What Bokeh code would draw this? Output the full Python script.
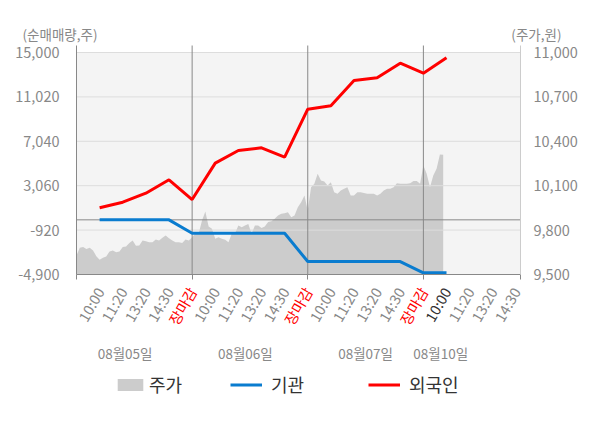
import math
from bokeh.plotting import figure
from bokeh.models import (Range1d, LinearAxis, FixedTicker, NumeralTickFormatter,
                          BoxAnnotation, Label, LabelSet, ColumnDataSource, Legend, LegendItem)
from bokeh.embed import file_html
from bokeh.resources import INLINE
from bokeh.core.properties import value

FONT = "Noto Sans CJK KR"

# ---------------- data ----------------
time_labels = ["10:00", "11:20", "13:20", "14:30", "장마감"] * 3 + ["10:00", "11:20", "13:20", "14:30"]
date_labels = ["08월05일", "08월06일", "08월07일", "08월10일"]

# net buying volume (shares), left axis
foreign = [1080, 1580, 2390, 3590, 1820, 5080, 6220, 6460, 5620, 9920,
           10220, 12490, 12730, 14040, 13150, 14530]
institution = [0, 0, 0, 0, -1200, -1200, -1200, -1200, -1200, -3740,
               -3740, -3740, -3740, -3740, -4750, -4750]

# share price (won), right axis, intraday samples per day
price_day1 = [9628, 9680, 9685, 9673, 9680, 9662, 9624, 9599, 9613, 9622,
              9655, 9662, 9651, 9655, 9685, 9689, 9712, 9730, 9694, 9696,
              9730, 9725, 9718, 9718, 9736, 9730, 9748, 9764, 9745, 9730,
              9718, 9718, 9712, 9736, 9730]
price_day2 = [9752, 9779, 9779, 9865, 9925, 9824, 9809, 9741, 9752, 9741,
              9734, 9718, 9775, 9779, 9831, 9820, 9831, 9842, 9775, 9831,
              9831, 9815, 9824, 9854, 9860, 9876, 9899, 9910, 9914, 9921,
              9887, 9899, 9955, 9989, 10034]
price_day3 = [9932, 10090, 10113, 10180, 10135, 10128, 10101, 10124, 10056, 10045,
              10068, 10079, 10090, 10034, 10034, 10056, 10056, 10050, 10045, 10045,
              10045, 10034, 10045, 10068, 10079, 10079, 10090, 10117, 10113, 10113,
              10113, 10117, 10131, 10131, 10113]
price_day4 = [10237, 10180, 10090, 10169, 10214, 10311, 10309]

left_ticks = [-4900, -920, 3060, 7040, 11020, 15000]
right_ticks = [9500, 9800, 10100, 10400, 10700, 11000]

# ---------------- layout (pixels) ----------------
W, H = 600, 428
PL, PR = 76, 520          # plot area left / right
PT, PB = 45, 274          # frame top / bottom (axis line ends)
TICK_TOP_PX = 52          # pixel of the top tick (15,000 / 11,000)
X0, X1 = -1, 18.2         # x-extent of plot area in slot units
SLOTS_PER_DAY = 5
SAMPLES_PER_DAY = 35
date_label_x = [1.1, 6.3, 11.5, 14.75]

kx = (PR - PL) / (X1 - X0)
def xd(px):
    return X0 + (px - PL) / kx

def make_y(lo, hi):
    k = (PB - TICK_TOP_PX) / (hi - lo)
    return lambda py: lo + (PB - py) / k

yl = make_y(left_ticks[0], left_ticks[-1])
yr = make_y(right_ticks[0], right_ticks[-1])

idx = list(range(len(foreign)))
price = price_day1 + price_day2 + price_day3 + price_day4
price_x = [X0 + k * SLOTS_PER_DAY / SAMPLES_PER_DAY for k in range(len(price))]
close_idx = [i for i, t in enumerate(time_labels) if t == "장마감"]

p = figure(width=W, height=H,
           x_range=Range1d(xd(0), xd(W)), y_range=Range1d(yl(H), yl(0)),
           x_axis_location=None, y_axis_location=None,
           output_backend="svg", toolbar_location=None,
           min_border=0)
p.outline_line_color = None
p.background_fill_color = "white"
p.border_fill_color = "white"
p.extra_y_ranges = {"price": Range1d(yr(H), yr(0))}
p.xgrid.visible = False
p.ygrid.visible = False

# plot-area background
p.add_layout(BoxAnnotation(left=X0, right=X1, bottom=left_ticks[0], top=left_ticks[-1],
                           fill_color="#f4f4f4", fill_alpha=1, line_color=None, level="image"))

# price area
area = p.varea(x=price_x, y1=right_ticks[0], y2=price, y_range_name="price",
               fill_color="#cccccc", fill_alpha=1)

# grid lines
p.segment(x0=X0, x1=X1, y0=left_ticks[1:], y1=left_ticks[1:], line_color="#dddddd", line_width=1)
# zero line and day separators
p.segment(x0=X0, x1=X1, y0=0, y1=0, line_color="#888888", line_width=1)
p.segment(x0=close_idx, x1=close_idx, y0=left_ticks[0], y1=yl(PT), line_color="#888888", line_width=1)

inst = p.line(idx, institution, line_color="#0a7ccf", line_width=3)
forn = p.line(idx, foreign, line_color="#ff0000", line_width=3)

# axes (fixed at plot-area edges)
la = LinearAxis(fixed_location=X0, bounds=(left_ticks[0], yl(PT)),
                ticker=FixedTicker(ticks=left_ticks), formatter=NumeralTickFormatter(format="0,0"))
la.axis_line_color = "#888888"
la.major_tick_line_color = None
la.minor_tick_line_color = None
la.major_label_standoff = 11
la.major_label_text_color = "#888888"
la.major_label_text_font = FONT
la.major_label_text_font_size = "14.5px"
p.add_layout(la, "left")

ra = LinearAxis(y_range_name="price", fixed_location=X1, bounds=(right_ticks[0], yr(PT)),
                ticker=FixedTicker(ticks=right_ticks), formatter=NumeralTickFormatter(format="0,0"))
ra.axis_line_color = "#cccccc"
ra.major_tick_line_color = None
ra.minor_tick_line_color = None
ra.major_label_standoff = 7
ra.major_label_text_color = "#888888"
ra.major_label_text_font = FONT
ra.major_label_text_font_size = "14.5px"
p.add_layout(ra, "right")

ba = LinearAxis(fixed_location=left_ticks[0], bounds=(X0, X1),
                ticker=FixedTicker(ticks=[], minor_ticks=[X0] + close_idx + [X1]))
ba.axis_line_color = "#888888"
ba.major_tick_line_color = None
ba.minor_tick_line_color = "#888888"
ba.minor_tick_in = 0
ba.minor_tick_out = 5
ba.major_label_text_font_size = "0px"
p.add_layout(ba, "below")

# time tick labels
last_i = len(foreign) - 1
colors = ["#ff0000" if t == "장마감" else ("#333333" if i == last_i else "#888888")
          for i, t in enumerate(time_labels)]
tsrc = ColumnDataSource(dict(x=list(range(len(time_labels))), text=time_labels, color=colors))
p.add_layout(LabelSet(x="x", y=yl(288), text="text", source=tsrc,
                      text_color="color", angle=math.pi / 3, text_align="right",
                      text_baseline="middle", text_font=value(FONT), text_font_size="14.5px"))

dsrc = ColumnDataSource(dict(x=date_label_x, text=date_labels))
p.add_layout(LabelSet(x="x", y=yl(352), text="text", source=dsrc,
                      text_color="#888888", text_align="center", text_baseline="middle",
                      text_font=value(FONT), text_font_size="13.5px"))

# unit titles
p.add_layout(Label(x=xd(22), y=yl(33), text="(순매매량,주)",
                   text_align="left", text_baseline="middle", text_color="#888888",
                   text_font=FONT, text_font_size="13.5px"))
p.add_layout(Label(x=xd(561), y=yl(33), text="(주가,원)",
                   text_align="right", text_baseline="middle", text_color="#888888",
                   text_font=FONT, text_font_size="13.5px"))

# legends
def make_legend(label, r, px_left, standoff):
    lg = Legend(items=[LegendItem(label=label, renderers=[r])], location=(px_left, H - 397),
                orientation="horizontal", padding=0, margin=0, spacing=0,
                glyph_width=32, glyph_height=15, label_height=15, label_standoff=standoff,
                border_line_color=None, background_fill_alpha=0,
                label_text_font=FONT, label_text_font_size="18px", label_text_color="#333333")
    p.add_layout(lg, "center")

make_legend("주가", area, 114, 3)
make_legend("기관", inst, 230, 9)
make_legend("외국인", forn, 368, 9)

open("out.html", "w").write(file_html(p, INLINE))
